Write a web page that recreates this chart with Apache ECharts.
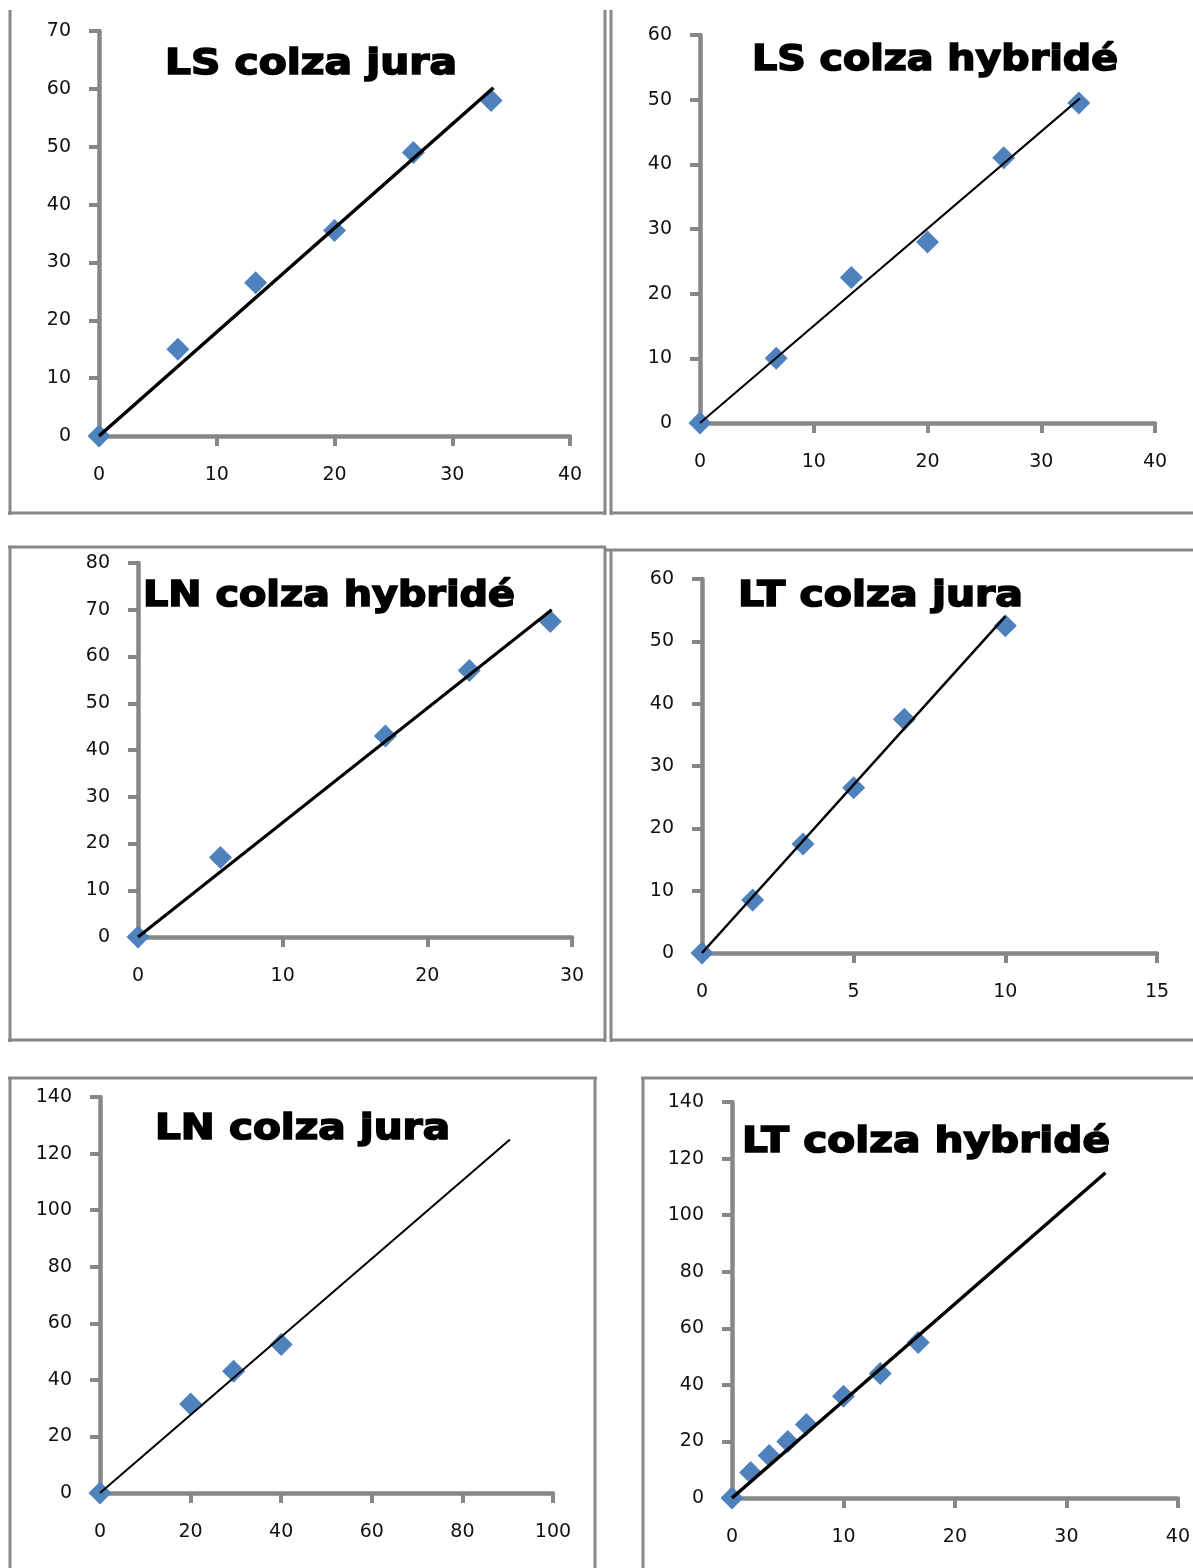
<!DOCTYPE html>
<html><head><meta charset="utf-8">
<script src="https://cdn.jsdelivr.net/npm/echarts@6/dist/echarts.min.js"></script>
<style>html,body{margin:0;padding:0;background:#fff}#c{width:1193px;height:1568px}</style>
</head><body><div id="c"></div>
<script>
// ---------- DATA ----------
const chartTitles = ['LS colza jura', 'LS colza hybridé', 'LN colza hybridé', 'LT colza jura', 'LN colza jura', 'LT colza hybridé'];

const lsJuraX = [0, 6.7, 13.3, 20, 26.7, 33.3];
const lsJuraY = [0, 15, 26.5, 35.5, 49, 58];
const lsJuraTrend = [[0, 0], [33.5, 60.2]];

const lsHybX = [0, 6.7, 13.3, 20, 26.7, 33.3];
const lsHybY = [0, 10, 22.5, 28, 41, 49.5];
const lsHybTrend = [[0, 0], [33.4, 50.2]];

const lnHybX = [0, 5.7, 17.1, 22.9, 28.5];
const lnHybY = [0, 17, 43, 57, 67.5];
const lnHybTrend = [[0, 0], [28.6, 70]];

const ltJuraX = [0, 1.67, 3.33, 5, 6.67, 10];
const ltJuraY = [0, 8.5, 17.5, 26.5, 37.5, 52.5];
const ltJuraTrend = [[0, 0], [10, 54]];

const lnJuraX = [0, 20, 29.5, 40];
const lnJuraY = [0, 31.5, 43, 52.5];
const lnJuraTrend = [[0, 0], [90.5, 125]];

const ltHybX = [0, 1.67, 3.33, 5, 6.67, 10, 13.3, 16.7];
const ltHybY = [0, 9, 15, 20, 26, 36, 44, 55];
const ltHybTrend = [[0, 0], [33.5, 115]];

// axis scales: [max, interval]
const xScales = [[40, 10], [40, 10], [30, 10], [15, 5], [100, 20], [40, 10]];
const yScales = [[70, 10], [60, 10], [80, 10], [60, 10], [140, 20], [140, 20]];

// ---------- LAYOUT ----------
const panels = [
  {x: lsJuraX, y: lsJuraY, t: lsJuraTrend, grid: {left: 99, top: 31, width: 471, height: 405}, lw: 3.5, title: {x: 165, y: 65, w: 292}},
  {x: lsHybX, y: lsHybY, t: lsHybTrend, grid: {left: 700, top: 35, width: 455, height: 388}, lw: 2, title: {x: 752, y: 61, w: 366}},
  {x: lnHybX, y: lnHybY, t: lnHybTrend, grid: {left: 138, top: 563, width: 434, height: 374}, lw: 3, title: {x: 143, y: 597, w: 372}},
  {x: ltJuraX, y: ltJuraY, t: ltJuraTrend, grid: {left: 702, top: 579, width: 455, height: 374}, lw: 2.5, title: {x: 738, y: 597, w: 285}},
  {x: lnJuraX, y: lnJuraY, t: lnJuraTrend, grid: {left: 100, top: 1097, width: 453, height: 396}, lw: 2, title: {x: 155, y: 1130, w: 295}},
  {x: ltHybX, y: ltHybY, t: ltHybTrend, grid: {left: 732, top: 1102, width: 454, height: 396}, lw: 3.5, title: {x: 742, y: 1143, w: 368}}
];

const axisGray = '#878787';
const labelStyle = {color: '#111', fontFamily: 'DejaVu Sans', fontSize: 19};

const grids = [], xAxes = [], yAxes = [], series = [];
panels.forEach((p, i) => {
  grids.push(Object.assign({containLabel: false}, p.grid));
  const common = {
    axisLine: {show: true, onZero: false, lineStyle: {color: axisGray, width: 4.5}},
    axisTick: {show: true, inside: false, length: 10, lineStyle: {color: axisGray, width: 4}},
    splitLine: {show: false},
    min: 0
  };
  xAxes.push(Object.assign({}, common, {
    type: 'value', gridIndex: i, max: xScales[i][0], interval: xScales[i][1],
    axisLabel: Object.assign({margin: 30}, labelStyle)
  }));
  yAxes.push(Object.assign({}, common, {
    type: 'value', gridIndex: i, max: yScales[i][0], interval: yScales[i][1],
    axisLabel: Object.assign({margin: 28}, labelStyle)
  }));
  series.push({
    type: 'scatter', xAxisIndex: i, yAxisIndex: i, symbol: 'diamond', symbolSize: 23,
    itemStyle: {color: '#4F81BD', opacity: 1}, z: 2,
    data: p.x.map((v, k) => [v, p.y[k]])
  });
  series.push({
    type: 'line', xAxisIndex: i, yAxisIndex: i, showSymbol: false, symbol: 'none', z: 3,
    lineStyle: {color: '#000', width: p.lw}, data: p.t
  });
});

// frames
const frameLines = [
  [10, 10, 10, 515], [8, 513, 606, 513], [605, 10, 605, 515],
  [611, 10, 611, 515], [611, 513, 1193, 513],
  [8, 547, 606, 547], [10, 547, 10, 1042], [8, 1040, 606, 1040], [605, 547, 605, 1042],
  [605, 550, 1193, 550], [611, 550, 611, 1042], [611, 1040, 1193, 1040],
  [8, 1078, 597, 1078], [10, 1078, 10, 1568], [595, 1078, 595, 1568],
  [641, 1078, 1193, 1078], [643, 1078, 643, 1568]
];
const graphics = frameLines.map(l => ({
  type: 'line', silent: true,
  shape: {x1: l[0], y1: l[1], x2: l[2], y2: l[3]},
  style: {stroke: axisGray, lineWidth: 3}
}));

const mctx = document.createElement('canvas').getContext('2d');
const titleFont = 'bold 35px "DejaVu Sans"';
mctx.font = titleFont;
panels.forEach((p, i) => {
  const w = mctx.measureText(chartTitles[i]).width;
  graphics.push({
    type: 'text', silent: true, x: p.title.x, y: p.title.y, scaleX: p.title.w / w, z: 10,
    style: {text: chartTitles[i], font: titleFont, fill: '#000', stroke: '#000', lineWidth: 1.6,
            textAlign: 'left', textVerticalAlign: 'middle'}
  });
});

const chart = echarts.init(document.getElementById('c'), null, {renderer: 'canvas'});
chart.setOption({
  animation: false,
  backgroundColor: '#fff',
  grid: grids, xAxis: xAxes, yAxis: yAxes, series: series,
  graphic: graphics
});
</script></body></html>
